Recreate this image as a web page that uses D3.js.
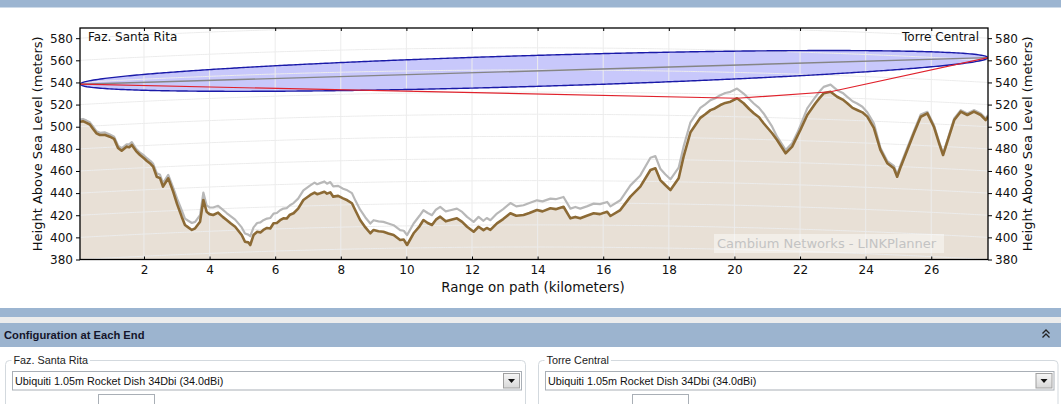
<!DOCTYPE html>
<html>
<head>
<meta charset="utf-8">
<script src="https://cdn.jsdelivr.net/npm/d3@7/dist/d3.min.js"></script>
<style>
html,body{margin:0;padding:0;background:#fff;overflow:hidden;}
svg{display:block;}
</style>
</head>
<body>
<svg id="chart" width="1061" height="404"></svg>
<script>
// ---------------- data ----------------
const distKm = [
 0.05,0.14,0.25,0.35,0.45,0.55,0.66,0.80,0.96,1.09,
 1.21,1.32,1.47,1.55,1.63,1.76,1.88,2.00,2.09,2.20,
 2.28,2.39,2.49,2.58,2.74,2.89,3.01,3.15,3.25,3.35,
 3.46,3.56,3.71,3.81,3.91,4.00,4.11,4.26,4.40,4.52,
 4.65,4.78,4.98,5.08,5.18,5.24,5.34,5.45,5.55,5.64,
 5.75,5.85,5.95,6.05,6.15,6.25,6.35,6.45,6.56,6.70,
 6.86,7.07,7.20,7.28,7.37,7.50,7.58,7.68,7.77,7.92,
 8.07,8.20,8.34,8.45,8.59,8.75,8.90,9.00,9.15,9.30,
 9.45,9.61,9.81,9.92,10.02,10.22,10.40,10.52,10.65,10.78,
 10.90,11.03,11.20,11.34,11.54,11.70,11.85,12.05,12.20,12.35,
 12.45,12.56,12.76,12.95,13.17,13.35,13.57,13.75,13.98,14.15,
 14.39,14.55,14.79,15.00,15.15,15.30,15.50,15.71,15.90,16.12,
 16.22,16.52,16.83,17.13,17.44,17.59,17.74,17.89,18.05,18.30,
 18.45,18.66,18.96,19.10,19.27,19.40,19.57,19.72,19.88,20.08,
 20.28,20.45,20.59,20.75,20.89,21.15,21.30,21.56,21.76,21.91,
 22.01,22.22,22.47,22.60,22.72,22.93,23.13,23.30,23.44,23.60,
 23.74,23.90,24.05,24.25,24.45,24.66,24.86,24.96,25.07,25.27,
 25.47,25.68,25.88,26.08,26.24,26.36,26.54,26.70,26.90,27.10,
 27.30,27.51,27.66,27.73];
const terrainM = [
 504.5,505,503.5,502,498,494,492.5,492.8,491,489,
 480.8,478.3,482,481.5,483.5,478,474.4,471.5,469,466.5,
 463.9,454.8,453.5,445.8,453.4,441.3,430,418.7,411.2,409,
 406.7,408.2,414.2,433.8,423.2,421,420.2,422.3,418.5,415.7,
 412.5,409.6,402.1,396,395.5,393.1,402.1,405,404.5,406.7,
 408.5,408,412.7,413,415.5,417.2,417,420.5,421.8,426,
 433.8,438.3,440.5,439,439.8,441.2,439.5,440.7,436.8,437.5,
 435.3,433.5,430.8,424,415.7,409,403.7,406.7,405.5,405.1,
 403.5,402.1,397.6,398,393.1,403.7,410,415.7,413,411.2,
 416,418.7,414.5,415.7,417.2,414,409.6,405.1,409.6,406.5,
 408.5,406.7,412.7,416.5,421.8,419.5,420.2,422,424.7,423.5,
 426.3,425.5,427.7,417.2,418.5,417.2,419.5,421.8,421,423.2,
 419.3,424.7,436.8,445.8,460.9,462.4,451.8,447.3,442.8,453.4,
 472.9,495,508,511,515,516.5,519.6,521.5,522.6,525.7,
 521.2,516,512.1,508.5,503.1,494.1,488,476,482,491,
 497,510.6,521.2,526,530.2,531.6,527.1,524.5,521.2,517,
 515.1,513,509.1,499,479,467,462.4,454.8,463.9,479,
 494,509,512.1,500,485,474.4,491,506,513.6,510.6,
 513.6,510.6,506,509];
const clutterM = [
 506.5,507,505.5,504,500,496,494.5,495,493,491,
 483,480.5,484,484,486,480,476.5,474,471.5,469,
 466.5,458,456.5,449,456.5,445,435,424.5,417,415,
 413,414,420,440.5,429,427,427,428.5,425,422,
 419,416,409,403.5,402.5,401,409,413,413.5,415.5,
 417,417.5,421.5,422,424.5,426,426.5,429,431,435,
 442.5,447,449.5,448,449,450.5,448.5,450,446,446.5,
 444,442.5,440,433,425,418,412.5,415.5,414.5,414,
 412.5,411,406.5,406,402,412.5,419.5,424.5,422,420,
 425,427.5,423.5,424.5,426,423,418.5,414,418.5,415,
 417.5,415.5,421.5,425.5,431,428,429,431,433.5,432.5,
 435,434.5,436.5,426,427.5,426,428,430.5,430,432,
 428,433.5,447,456,472,473.5,462,457,452.5,463,
 482,504,517,520,524,525.5,528.5,530.5,531.5,534.5,
 530,525,521,517,512,500,491,479,485,494,
 501,516.5,527,532,536,538,533,530.5,527,523,
 521,518,513,503,481,469,464.5,457,466,481,
 496,511,513.5,501.5,486.5,476,492.5,507.5,515,512,
 515,512,507.5,510.5];

const siteNames = ["Faz. Santa Rita", "Torre Central"];
const antennaHeightsM = [538.4, 562.4];        // line-of-sight end points (m)
const pathStartKm = 0.05, pathEndKm = 27.73;
const fresnelRadiusMaxM = 14;                   // mid-path radius of the drawn zone
const earthRadiusKm = 6371, kFactor = 4/3;
const obstructionLineKm = [0.05, 20.08, 22.93, 27.73];
const obstructionLineM  = [538.4, 525.7, 531.6, 562.4];

const xTicks = [2,4,6,8,10,12,14,16,18,20,22,24,26];
const yTicks = [380,400,420,440,460,480,500,520,540,560,580];
const gridHeights = [360,380,400,420,440,460,480,500,520,540,560,580];

const antennaName = "Ubiquiti 1.05m Rocket Dish 34Dbi (34.0dBi)";
const panelTitle = "Configuration at Each End";

// ---------------- layout ----------------
const svg = d3.select("#chart");
const X0 = 80, X1 = 988, Y0 = 28, Y1 = 259.5;
const x = d3.scaleLinear().domain([pathStartKm, pathEndKm]).range([X0, X1]);
const y = d3.scaleLinear().domain([380, 589.2]).range([Y1, Y0]);

svg.append("rect").attr("x",0).attr("y",0).attr("width",1061).attr("height",404).attr("fill","#fff");
svg.append("rect").attr("x",0).attr("y",0).attr("width",1061).attr("height",7.5).attr("fill","#9cb5d1");

const defs = svg.append("defs");
defs.append("clipPath").attr("id","plotclip").append("rect")
  .attr("x",X0).attr("y",Y0).attr("width",X1-X0).attr("height",Y1-Y0);
const btnGrad = defs.append("linearGradient").attr("id","btng").attr("x1",0).attr("x2",0).attr("y1",0).attr("y2",1);
btnGrad.append("stop").attr("offset","0").attr("stop-color","#f6f6f6");
btnGrad.append("stop").attr("offset","1").attr("stop-color","#d8d8d8");

const plot = svg.append("g").attr("clip-path","url(#plotclip)");

const pts = distKm.map((d,i)=>({d, t: terrainM[i], c: clutterM[i]}));

// terrain fill
plot.append("path").datum(pts)
  .attr("d", d3.area().x(p=>x(p.d)).y0(Y1+2).y1(p=>y(p.t)))
  .attr("fill","#e8e0d6");

// fresnel zone
const span = pathEndKm - pathStartKm;
const los = d => antennaHeightsM[0] + (antennaHeightsM[1]-antennaHeightsM[0])*(d-pathStartKm)/span;
const fr = d => { const a = Math.max(0,d-pathStartKm), b = Math.max(0,pathEndKm-d); return fresnelRadiusMaxM*2*Math.sqrt(a*b)/span; };
const samples = d3.range(0,401).map(i => pathStartKm + span*i/400);
const upperEdge = samples.map(d => [x(d), y(los(d)+fr(d))]);
const lowerEdge = samples.map(d => [x(d), y(los(d)-fr(d))]);
plot.append("path").attr("d", d3.line()(upperEdge.concat(lowerEdge.slice().reverse())) + "Z")
  .attr("fill","#c8c8fb");

// curved (earth bulge) grid lines
const bulge = d => (d-pathStartKm)*(pathEndKm-d)/(2*kFactor*earthRadiusKm)*1000;
const gridG = plot.append("g");
gridHeights.forEach(h=>{
  gridG.append("path")
    .attr("d", d3.line().x(d=>x(d)).y(d=>y(h+bulge(d)))(samples))
    .attr("fill","none").attr("stroke","#ececec").attr("stroke-width",1);
});
xTicks.forEach(t=>{
  gridG.append("line").attr("x1",x(t)).attr("x2",x(t)).attr("y1",Y0).attr("y2",Y1)
    .attr("stroke","#ececec").attr("stroke-width",1);
});

// clutter + terrain lines
plot.append("path").datum(pts)
  .attr("d", d3.line().x(p=>x(p.d)).y(p=>y(p.c)))
  .attr("fill","none").attr("stroke","#b8b8b8").attr("stroke-width",2.2).attr("stroke-linejoin","round");
plot.append("path").datum(pts)
  .attr("d", d3.line().x(p=>x(p.d)).y(p=>y(p.t)))
  .attr("fill","none").attr("stroke","#8c6a35").attr("stroke-width",2.6).attr("stroke-linejoin","round");

// fresnel outline
plot.append("path").attr("d", d3.line()(upperEdge)).attr("fill","none").attr("stroke","#1a1aa8").attr("stroke-width",1.4);
plot.append("path").attr("d", d3.line()(lowerEdge)).attr("fill","none").attr("stroke","#1a1aa8").attr("stroke-width",1.4);
// line of sight
plot.append("line").attr("x1",x(pathStartKm)).attr("y1",y(antennaHeightsM[0]))
  .attr("x2",x(pathEndKm)).attr("y2",y(antennaHeightsM[1]))
  .attr("stroke","#858585").attr("stroke-width",1.4);
// obstruction line
plot.append("path")
  .attr("d", d3.line().x(d=>x(d)).y((d,i)=>y(obstructionLineM[i]))(obstructionLineKm))
  .attr("fill","none").attr("stroke","#e0222c").attr("stroke-width",1.2);

// watermark
svg.append("rect").attr("x",714).attr("y",234).attr("width",230).attr("height",19)
  .attr("fill","#ffffff").attr("opacity",0.45);
svg.append("text").attr("x",717).attr("y",248).text("Cambium Networks - LINKPlanner")
  .attr("font-family","DejaVu Sans").attr("font-size",13).attr("fill","#c3c3c3");

// axes
const fontF = "DejaVu Sans";
const styleAxis = g => { g.select(".domain").remove(); g.selectAll("text").attr("font-family",fontF).attr("font-size",12).attr("fill","#111"); g.selectAll("line").attr("stroke","#000"); };
svg.append("g").attr("transform",`translate(${X0},0)`)
  .call(d3.axisLeft(y).tickValues(yTicks).tickSize(4).tickPadding(3)).call(styleAxis);
svg.append("g").attr("transform",`translate(${X1},0)`)
  .call(d3.axisRight(y).tickValues(yTicks).tickSize(4).tickPadding(3)).call(styleAxis);
svg.append("g").attr("transform",`translate(0,${Y1})`)
  .call(d3.axisBottom(x).tickValues(xTicks).tickSizeInner(-3).tickSizeOuter(0).tickPadding(6)).call(styleAxis);
svg.append("g").attr("transform",`translate(0,${Y0})`)
  .call(d3.axisTop(x).tickValues(xTicks).tickSizeInner(-3).tickSizeOuter(0).tickFormat("")).call(styleAxis);

// frame
svg.append("rect").attr("x",X0).attr("y",Y0).attr("width",X1-X0).attr("height",Y1-Y0)
  .attr("fill","none").attr("stroke","#000").attr("stroke-width",1.3);

// site labels
svg.append("text").attr("x",88).attr("y",41).text(siteNames[0])
  .attr("font-family",fontF).attr("font-size",12).attr("fill","#111");
svg.append("text").attr("x",979).attr("y",41).attr("text-anchor","end").text(siteNames[1])
  .attr("font-family",fontF).attr("font-size",12).attr("fill","#111");

// titles
const midY = (Y0+Y1)/2;
svg.append("text").attr("transform",`translate(37,${midY}) rotate(-90)`).attr("dy","0.35em")
  .attr("text-anchor","middle").text("Height Above Sea Level (meters)")
  .attr("font-family",fontF).attr("font-size",13).attr("fill","#111");
svg.append("text").attr("transform",`translate(1027,${midY}) rotate(-90)`).attr("dy","0.35em")
  .attr("text-anchor","middle").text("Height Above Sea Level (meters)")
  .attr("font-family",fontF).attr("font-size",13).attr("fill","#111");
svg.append("text").attr("x",533).attr("y",292).attr("text-anchor","middle")
  .text("Range on path (kilometers)")
  .attr("font-family",fontF).attr("font-size",13.4).attr("fill","#111");

// ---------------- bottom panel ----------------
svg.append("rect").attr("x",0).attr("y",308).attr("width",1061).attr("height",9).attr("fill","#9cb5d1");
svg.append("rect").attr("x",0).attr("y",317).attr("width",1061).attr("height",6).attr("fill","#ececec");
svg.append("rect").attr("x",0).attr("y",323).attr("width",1061).attr("height",24).attr("fill","#9cb4cf");
svg.append("text").attr("x",4).attr("y",339).text(panelTitle)
  .attr("font-family","Liberation Sans").attr("font-weight","bold").attr("font-size",11.2).attr("fill","#14142a");
svg.append("path").attr("d","M1042.5,333.5 L1046,330 L1049.5,333.5 M1042.5,337.5 L1046,334 L1049.5,337.5")
  .attr("fill","none").attr("stroke","#222").attr("stroke-width",1.3);

const uiFont = "Liberation Sans";
const groups = [
  {gx:5.5, gw:520, cx:12.5, cw:509, ix:98.5},
  {gx:538.5, gw:519.5, cx:545.5, cw:508.5, ix:632.5}
];
groups.forEach((g,i)=>{
  svg.append("rect").attr("x",g.gx).attr("y",360.5).attr("width",g.gw).attr("height",60).attr("rx",4)
    .attr("fill","none").attr("stroke","#d3d9de");
  const lbl = svg.append("text").attr("x",g.gx+8).attr("y",364).text(siteNames[i])
    .attr("font-family",uiFont).attr("font-size",10.8).attr("fill","#222");
  const w = lbl.node().getComputedTextLength();
  svg.insert("rect", () => lbl.node()).attr("x",g.gx+6).attr("y",356).attr("width",w+4).attr("height",8).attr("fill","#fff");
  svg.append("rect").attr("x",g.cx).attr("y",371.5).attr("width",g.cw).attr("height",18.5)
    .attr("fill","#fff").attr("stroke","#a9afb6");
  svg.append("text").attr("x",g.cx+2.5).attr("y",384.5).text(antennaName)
    .attr("font-family",uiFont).attr("font-size",10.8).attr("fill","#111");
  const bx = g.cx + g.cw - 18;
  svg.append("rect").attr("x",bx).attr("y",373.5).attr("width",16).attr("height",14.5)
    .attr("fill","url(#btng)").attr("stroke","#a0a0a0");
  svg.append("path").attr("d",`M${bx+4.5},379 L${bx+11.5},379 L${bx+8},383 Z`).attr("fill","#111");
  svg.append("rect").attr("x",g.ix).attr("y",394.5).attr("width",56).attr("height",20)
    .attr("fill","#fff").attr("stroke","#a9afb6");
});
</script>
</body>
</html>
